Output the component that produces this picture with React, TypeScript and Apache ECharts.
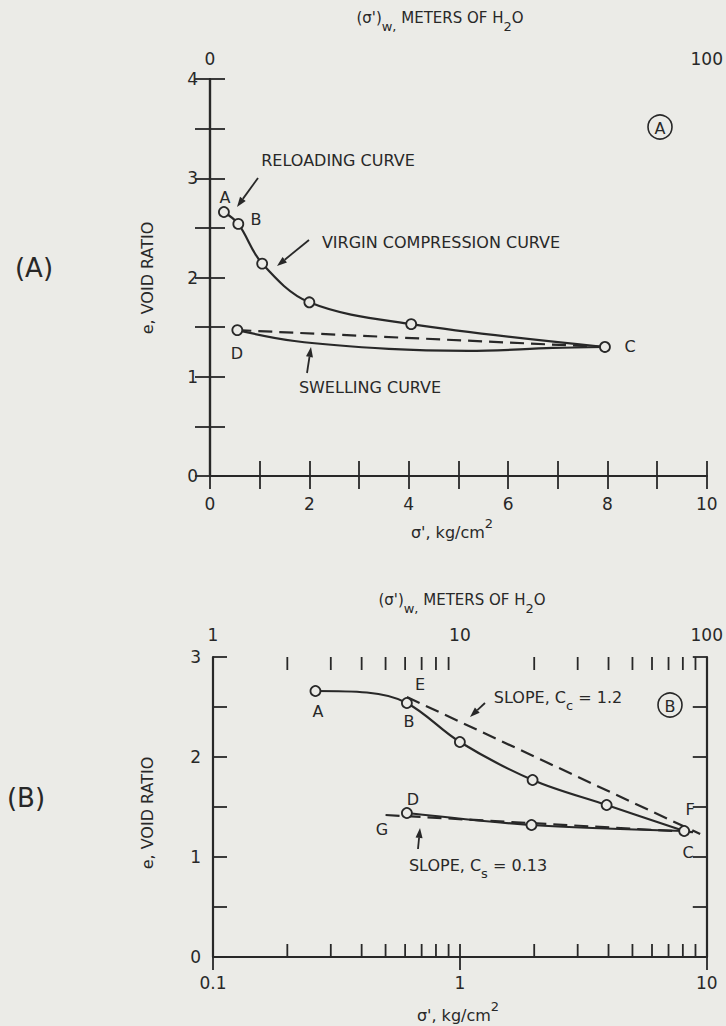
import { useEffect, useRef } from 'react';
import * as echarts from 'echarts';

const INK = '#282828';
const BG = '#ebebe7';
const FONT = "'DejaVu Sans', sans-serif";

// ---------- Chart (A): linear sigma' axis ----------
const topBottomTickLabels = [0, 2, 4, 6, 8, 10];
const topTopTickLabels = [0, 100];
const virginTop = [[0.28, 2.66], [0.57, 2.54], [1.05, 2.14], [2.0, 1.75], [4.05, 1.53], [7.95, 1.3]];
const swellingTop = [[0.55, 1.47], [1.7, 1.36], [3.6, 1.28], [5.2, 1.26], [6.9, 1.29], [7.95, 1.3]];
const reloadTop = [[0.55, 1.47], [7.95, 1.3]];
const markedTop = [[0.28, 2.66], [0.57, 2.54], [1.05, 2.14], [2.0, 1.75], [4.05, 1.53], [7.95, 1.3], [0.55, 1.47]];

// ---------- Chart (B): log sigma' axis ----------
const virginBottom = [[0.26, 2.66], [0.42, 2.645], [0.61, 2.54], [1.0, 2.15], [1.97, 1.77], [3.93, 1.52], [8.1, 1.26]];
const swellingBottom = [[0.61, 1.44], [1.95, 1.32], [8.1, 1.26]];
const ccLine = [[0.61, 2.6], [9.4, 1.23]];
const csLine = [[0.5, 1.42], [9.4, 1.245]];
const markedBottom = [[0.26, 2.66], [0.61, 2.54], [1.0, 2.15], [1.97, 1.77], [3.93, 1.52], [8.1, 1.26], [0.61, 1.44], [1.95, 1.32]];
const minorLogTicks = [0.2, 0.3, 0.4, 0.5, 0.6, 0.7, 0.8, 0.9, 2, 3, 4, 5, 6, 7, 8, 9];

let measureCtx: CanvasRenderingContext2D | null = null;
function measure(text: string, size: number) {
  if (!measureCtx) measureCtx = document.createElement('canvas').getContext('2d');
  measureCtx!.font = `${size}px 'DejaVu Sans', sans-serif`;
  return measureCtx!.measureText(text).width;
}

function txt(x: number, y: number, text: string, fontSize = 16, extra: any = {}) {
  return {
    type: 'text', x, y, z: 10,
    style: {
      text, fill: INK, fontSize, fontFamily: FONT,
      align: 'center', verticalAlign: 'middle', textAlign: 'center', textVerticalAlign: 'middle',
      ...extra,
    },
  };
}

// segments: [text, fontSize, dy]
function segText(x: number, y: number, parts: [string, number, number][]) {
  const widths = parts.map(([t, s]) => measure(t, s));
  const total = widths.reduce((a, b) => a + b, 0);
  let cx = x - total / 2;
  const children = parts.map(([t, s, dy], i) => {
    const el = {
      type: 'text', x: cx, y: y + dy,
      style: { text: t, fill: INK, fontSize: s, fontFamily: FONT, align: 'left', textAlign: 'left', verticalAlign: 'middle', textVerticalAlign: 'middle' },
    };
    cx += widths[i];
    return el;
  });
  return { type: 'group', z: 10, children };
}

function arrow(x1: number, y1: number, x2: number, y2: number) {
  const dx = x2 - x1, dy = y2 - y1;
  const len = Math.sqrt(dx * dx + dy * dy);
  const ux = dx / len, uy = dy / len;
  const hl = 10, hw = 3.5;
  const bx = x2 - ux * hl, by = y2 - uy * hl;
  return {
    type: 'group', z: 10,
    children: [
      { type: 'line', shape: { x1, y1, x2: bx, y2: by }, style: { stroke: INK, lineWidth: 1.8 } },
      {
        type: 'polygon',
        shape: { points: [[x2, y2], [bx - uy * hw, by + ux * hw], [bx + uy * hw, by - ux * hw]] },
        style: { fill: INK },
      },
    ],
  };
}

function circled(x: number, y: number, r: number, letter: string) {
  return {
    type: 'group', z: 10,
    children: [
      { type: 'circle', shape: { cx: x, cy: y, r }, style: { fill: 'none', stroke: INK, lineWidth: 1.6 } },
      txt(x, y + 1, letter, 16),
    ],
  };
}

function linAxisLabel(show: number[]) {
  return (v: number) => (show.indexOf(Math.round(v * 1000) / 1000) >= 0 ? String(v) : '');
}

const titleParts: [string, number, number][] = [["(σ')", 15, 0], ['w,', 13, 8], [' METERS OF H', 15, 0], ['2', 13, 8], ['O', 15, 0]];
const kgParts: [string, number, number][] = [["σ', kg/cm", 16, 0], ['2', 13, -9]];

export default function App() {
  const ref = useRef<HTMLDivElement>(null);
  useEffect(() => {
    document.body.style.margin = '0';
    document.body.style.background = BG;
    const chart = echarts.init(ref.current!, null, { renderer: 'svg' });
    const axisLine = { lineStyle: { color: INK, width: 2.2 } };
    const labelStyle = { color: INK, fontSize: 17, fontFamily: FONT };
    const tick = (len: number) => ({ inside: true, length: len, lineStyle: { color: INK, width: 1.8 } });
    const lineSeries = (data: number[][], xi: number, yi: number, dashed = false, smooth: any = 0.35) => ({
      type: 'line', xAxisIndex: xi, yAxisIndex: yi, data, smooth, showSymbol: false, symbol: 'none',
      lineStyle: { color: INK, width: 2.2, type: dashed ? [14, 7] : 'solid' }, z: 3, silent: true,
    });
    const markers = (data: number[][], xi: number, yi: number) => ({
      type: 'scatter', xAxisIndex: xi, yAxisIndex: yi, data, symbol: 'circle', symbolSize: 10,
      itemStyle: { color: BG, borderColor: INK, borderWidth: 1.8, opacity: 1 }, z: 6, silent: true,
    });

    chart.setOption({
      animation: false,
      backgroundColor: BG,
      grid: [
        { left: 210, top: 79, width: 502, height: 397 },
        { left: 213, top: 657, width: 501, height: 300 },
      ],
      xAxis: [
        {
          gridIndex: 0, type: 'value', position: 'bottom', min: 0, max: 10, interval: 1,
          axisLine, axisTick: tick(15), splitLine: { show: false },
          axisLabel: { ...labelStyle, margin: 19, formatter: linAxisLabel(topBottomTickLabels) },
        },
        {
          gridIndex: 0, type: 'value', position: 'top', min: 0, max: 100, interval: 10,
          axisLine, axisTick: tick(13), splitLine: { show: false },
          axisLabel: { ...labelStyle, margin: 12, formatter: linAxisLabel(topTopTickLabels) },
        },
        {
          gridIndex: 1, type: 'log', logBase: 10, position: 'bottom', min: 0.1, max: 10,
          axisLine, axisTick: tick(13), splitLine: { show: false }, minorTick: { show: false },
          axisLabel: { ...labelStyle, margin: 17, formatter: (v: number) => String(+v.toPrecision(3)) },
        },
        {
          gridIndex: 1, type: 'log', logBase: 10, position: 'top', min: 1, max: 100,
          axisLine, axisTick: tick(13), splitLine: { show: false },
          axisLabel: { ...labelStyle, margin: 14, formatter: (v: number) => String(+v.toPrecision(3)) },
        },
      ],
      yAxis: [
        {
          gridIndex: 0, type: 'value', position: 'left', min: 0, max: 4, interval: 0.5,
          axisLine, axisTick: tick(15), splitLine: { show: false },
          axisLabel: { ...labelStyle, margin: 12, formatter: (v: number) => (Number.isInteger(v) ? String(v) : '') },
        },
        {
          gridIndex: 0, type: 'value', position: 'right', min: 0, max: 4, interval: 0.5,
          axisLine, axisTick: tick(15), splitLine: { show: false }, axisLabel: { show: false },
        },
        {
          gridIndex: 1, type: 'value', position: 'left', min: 0, max: 3, interval: 0.5,
          axisLine, axisTick: tick(14), splitLine: { show: false },
          axisLabel: { ...labelStyle, margin: 12, formatter: (v: number) => (Number.isInteger(v) ? String(v) : '') },
        },
        {
          gridIndex: 1, type: 'value', position: 'right', min: 0, max: 3, interval: 0.5,
          axisLine, axisTick: tick(14), splitLine: { show: false }, axisLabel: { show: false },
        },
      ],
      series: [
        lineSeries(virginTop, 0, 0),
        lineSeries(swellingTop, 0, 0),
        lineSeries(reloadTop, 0, 0, true, false),
        markers(markedTop, 0, 0),
        lineSeries(virginBottom, 2, 2),
        lineSeries(swellingBottom, 2, 2, false, 0.3),
        lineSeries(ccLine, 2, 2, true, false),
        lineSeries(csLine, 2, 2, true, false),
        markers(markedBottom, 2, 2),
        {
          type: 'custom', xAxisIndex: 2, yAxisIndex: 2, silent: true, clip: false, z: 4,
          data: minorLogTicks.map((v) => [v, 0]),
          encode: { x: 0, y: 1 },
          renderItem: (_p: any, api: any) => {
            const v = api.value(0);
            const b = api.coord([v, 0]);
            const t = api.coord([v, 3]);
            return {
              type: 'group',
              children: [
                { type: 'line', shape: { x1: b[0], y1: b[1], x2: b[0], y2: b[1] - 13 }, style: { stroke: INK, lineWidth: 1.8 } },
                { type: 'line', shape: { x1: t[0], y1: t[1], x2: t[0], y2: t[1] + 13 }, style: { stroke: INK, lineWidth: 1.8 } },
              ],
            };
          },
        },
      ],
      graphic: [
        // ---- Chart A ----
        segText(440, 18, titleParts),
        segText(452, 532, kgParts),
        txt(34, 268, '(A)', 26),
        { ...txt(147, 278, 'e, VOID RATIO', 16), rotation: Math.PI / 2 },
        circled(660, 127, 12, 'A'),
        txt(338, 160, 'RELOADING CURVE'),
        arrow(258, 178, 237, 207),
        txt(225, 197, 'A'),
        txt(256, 219, 'B'),
        txt(441, 242, 'VIRGIN COMPRESSION CURVE'),
        arrow(309, 240, 277, 266),
        txt(237, 353, 'D'),
        txt(630, 346, 'C'),
        txt(370, 387, 'SWELLING CURVE'),
        arrow(307, 373, 311, 347),
        // ---- Chart B ----
        segText(462, 600, titleParts),
        segText(458, 1015, kgParts),
        txt(26, 798, '(B)', 26),
        { ...txt(147, 813, 'e, VOID RATIO', 16), rotation: Math.PI / 2 },
        circled(670, 705, 12, 'B'),
        txt(318, 711, 'A'),
        txt(409, 721, 'B'),
        txt(420, 684, 'E'),
        txt(413, 799, 'D'),
        txt(382, 829, 'G'),
        txt(690, 809, 'F'),
        txt(688, 852, 'C'),
        segText(558, 697, [['SLOPE, C', 16, 0], ['c', 13, 8], [' = 1.2', 16, 0]]),
        arrow(485, 703, 470, 717),
        segText(478, 865, [['SLOPE, C', 16, 0], ['s', 13, 8], [' = 0.13', 16, 0]]),
        arrow(418, 849, 420, 828),
      ],
    });
    return () => chart.dispose();
  }, []);
  return <div ref={ref} style={{ position: 'fixed', left: 0, top: 0, width: 726, height: 1026 }} />;
}
